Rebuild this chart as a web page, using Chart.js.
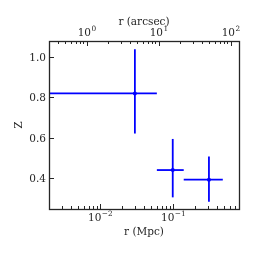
<!DOCTYPE html>
<html>
<head>
<meta charset="utf-8">
<script src="https://cdn.jsdelivr.net/npm/chart.js@4/dist/chart.umd.min.js"></script>
<style>
html,body{margin:0;padding:0;background:#fff;}
canvas{display:block;}
</style>
</head>
<body>
<canvas id="c" width="254" height="254"></canvas>
<script>
// ---- data ----
const xMpc   = [0.030, 0.099, 0.31];   // r (Mpc), point centres
const xLo    = [0.001, 0.060, 0.14];   // left end of horizontal bar
const xHi    = [0.060, 0.14, 0.48];    // right end of horizontal bar
const zVal   = [0.82, 0.438, 0.39];    // Z
const zLo    = [0.62, 0.302, 0.28];    // lower end of vertical bar
const zHi    = [1.04, 0.593, 0.505];   // upper end of vertical bar
const yTicks = [0.4, 0.6, 0.8, 1.0];
const yTickLabels = ['0.4', '0.6', '0.8', '1.0'];
const xRange = [0.002, 0.8];           // Mpc axis limits
const yRange = [0.244, 1.081];
const arcsecPerMpc = 163;              // conversion for top axis
const titleBottom = 'r (Mpc)';
const titleTop = 'r (arcsec)';
const titleY = 'Z';

const BLUE = '#0000ff';
const INK = '#262626';
const FS = 10.5;
const FAMILY = 'DejaVu Serif';

function isDecade(v){
  const e = Math.log10(v);
  return Math.abs(e - Math.round(e)) < 1e-6;
}
function logTicks(min, max){
  const out = [];
  for (let e = Math.floor(Math.log10(min)) - 1; e <= Math.ceil(Math.log10(max)); e++){
    for (let m = 1; m < 10; m++){
      const v = m * Math.pow(10, e);
      if (v >= min * 0.9999 && v <= max * 1.0001) out.push({value: v});
    }
  }
  return out;
}

const datasets = [];
for (let i = 0; i < xMpc.length; i++){
  datasets.push({data:[{x:xLo[i],y:zVal[i]},{x:xHi[i],y:zVal[i]}], showLine:true, borderColor:BLUE, borderWidth:1.8, pointRadius:0, xAxisID:'x', yAxisID:'y'});
  datasets.push({data:[{x:xMpc[i],y:zLo[i]},{x:xMpc[i],y:zHi[i]}], showLine:true, borderColor:BLUE, borderWidth:1.8, pointRadius:0, xAxisID:'x', yAxisID:'y'});
}
datasets.push({data: xMpc.map((x,i)=>({x, y:zVal[i]})), showLine:false, pointRadius:2, pointBackgroundColor:BLUE, pointBorderColor:BLUE, pointBorderWidth:0, xAxisID:'x', yAxisID:'y'});

function drawPow(ctx, cx, baseY, v){
  const e = String(Math.round(Math.log10(v))).replace('-', '\u2212');
  ctx.font = FS + 'px "' + FAMILY + '"';
  const w1 = ctx.measureText('10').width;
  const fs2 = FS * 0.7;
  ctx.font = fs2 + 'px "' + FAMILY + '"';
  const w2 = ctx.measureText(e).width;
  const x0 = cx - (w1 + w2) / 2;
  ctx.textAlign = 'left';
  ctx.textBaseline = 'alphabetic';
  ctx.font = FS + 'px "' + FAMILY + '"';
  ctx.fillText('10', x0, baseY);
  ctx.font = fs2 + 'px "' + FAMILY + '"';
  ctx.fillText(e, x0 + w1 + 0.5, baseY - 4.6);
}

const frameTicks = {
  id: 'frameTicks',
  afterDatasetsDraw(chart){
    const {ctx, chartArea: a} = chart;
    ctx.save();
    ctx.strokeStyle = INK;
    ctx.lineWidth = 1;
    ctx.beginPath();
    const drawX = (scale, atTop) => {
      scale.ticks.forEach(t => {
        const px = Math.round(scale.getPixelForValue(t.value)) + 0.5;
        if (px < a.left || px > a.right) return;
        const len = isDecade(t.value) ? 5 : 3;
        if (atTop){ ctx.moveTo(px, a.top); ctx.lineTo(px, a.top + len); }
        else { ctx.moveTo(px, a.bottom); ctx.lineTo(px, a.bottom - len); }
      });
    };
    drawX(chart.scales.x, false);
    drawX(chart.scales.x2, true);
    chart.scales.y.ticks.forEach(t => {
      const py = Math.round(chart.scales.y.getPixelForValue(t.value)) + 0.5;
      ctx.moveTo(a.left, py); ctx.lineTo(a.left + 5, py);
    });
    ctx.stroke();
    ctx.lineWidth = 1.3;
    ctx.strokeRect(a.left + 0.5, a.top + 0.5, a.right - a.left, a.bottom - a.top);

    // tick labels
    ctx.fillStyle = INK;
    chart.scales.x.ticks.forEach(t => {
      if (!isDecade(t.value)) return;
      drawPow(ctx, chart.scales.x.getPixelForValue(t.value), a.bottom + 12, t.value);
    });
    chart.scales.x2.ticks.forEach(t => {
      if (!isDecade(t.value)) return;
      drawPow(ctx, chart.scales.x2.getPixelForValue(t.value), a.top - 5, t.value);
    });
    ctx.font = FS + 'px "' + FAMILY + '"';
    ctx.textAlign = 'right';
    ctx.textBaseline = 'alphabetic';
    yTicks.forEach((v, i) => {
      ctx.fillText(yTickLabels[i], a.left - 3, chart.scales.y.getPixelForValue(v) + 4);
    });
    // titles
    const cx = (a.left + a.right) / 2;
    ctx.textAlign = 'center';
    ctx.fillText(titleBottom, cx, a.bottom + 26);
    ctx.fillText(titleTop, cx, a.top - 16.5);
    ctx.translate(19, (a.top + a.bottom) / 2);
    ctx.rotate(-Math.PI / 2);
    ctx.textBaseline = 'middle';
    ctx.fillText(titleY, 0, 0);
    ctx.restore();
  }
};

new Chart(document.getElementById('c'), {
  type: 'scatter',
  data: {datasets},
  options: {
    responsive: false,
    animation: false,
    events: [],
    layout: {padding: {left: 0, right: 15, top: 0, bottom: 0}},
    plugins: {legend: {display: false}, tooltip: {enabled: false}},
    scales: {
      x: {
        type: 'logarithmic', position: 'bottom',
        min: xRange[0], max: xRange[1],
        afterBuildTicks: s => { s.ticks = logTicks(xRange[0], xRange[1]); },
        afterFit: s => { s.height = 45; },
        grid: {display: false}, border: {display: false},
        ticks: {display: false},
        title: {display: false}
      },
      x2: {
        type: 'logarithmic', position: 'top',
        min: xRange[0] * arcsecPerMpc, max: xRange[1] * arcsecPerMpc,
        afterBuildTicks: s => { s.ticks = logTicks(xRange[0] * arcsecPerMpc, xRange[1] * arcsecPerMpc); },
        afterFit: s => { s.height = 41; },
        grid: {display: false}, border: {display: false},
        ticks: {display: false},
        title: {display: false}
      },
      y: {
        type: 'linear', position: 'left',
        min: yRange[0], max: yRange[1],
        afterBuildTicks: s => { s.ticks = yTicks.map(v => ({value: v})); },
        afterFit: s => { s.width = 49; },
        grid: {display: false}, border: {display: false},
        ticks: {display: false},
        title: {display: false}
      }
    }
  },
  plugins: [frameTicks]
});
</script>
</body>
</html>
